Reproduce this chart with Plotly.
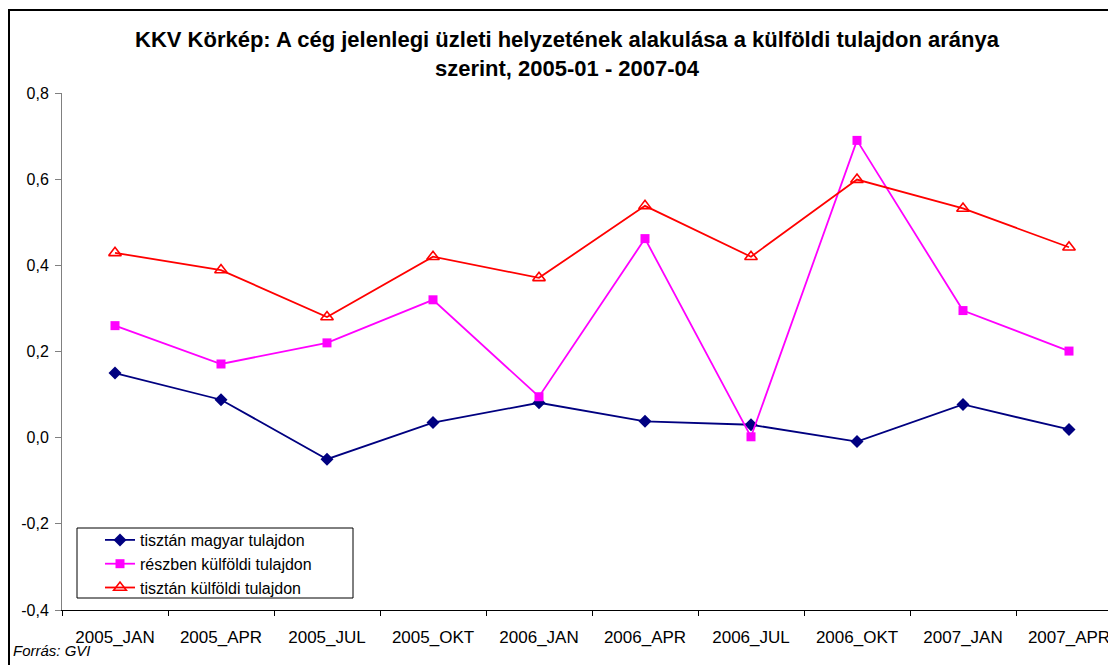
import plotly.graph_objects as go

categories = ["2005_JAN", "2005_APR", "2005_JUL", "2005_OKT", "2006_JAN",
              "2006_APR", "2006_JUL", "2006_OKT", "2007_JAN", "2007_APR"]

magyar = [0.150, 0.088, -0.050, 0.035, 0.081, 0.038, 0.030, -0.009, 0.077, 0.019]
reszben = [0.260, 0.171, 0.220, 0.320, 0.095, 0.462, 0.002, 0.690, 0.295, 0.201]
kulfoldi = [0.429, 0.389, 0.280, 0.420, 0.371, 0.538, 0.420, 0.599, 0.532, 0.442]

series_names = ["tisztán magyar tulajdon", "részben külföldi tulajdon", "tisztán külföldi tulajdon"]

y_tick_vals = [-0.4, -0.2, 0.0, 0.2, 0.4, 0.6, 0.8]
y_tick_text = ["-0,4", "-0,2", "0,0", "0,2", "0,4", "0,6", "0,8"]

title_text = ("KKV Körkép: A cég jelenlegi üzleti helyzetének alakulása a külföldi tulajdon aránya"
              "<br>szerint, 2005-01 - 2007-04")
source_text = "Forrás: GVI"

FONT = "Liberation Sans, Arial, sans-serif"

fig = go.Figure()
fig.add_trace(go.Scatter(
    x=categories, y=magyar, name=series_names[0], mode="lines+markers",
    line=dict(color="#000080", width=1.8),
    marker=dict(symbol="diamond", size=10, color="#000080"),
))
fig.add_trace(go.Scatter(
    x=categories, y=reszben, name=series_names[1], mode="lines+markers",
    line=dict(color="#FF00FF", width=1.8),
    marker=dict(symbol="square", size=9, color="#FF00FF"),
))
fig.add_trace(go.Scatter(
    x=categories, y=kulfoldi, name=series_names[2], mode="lines+markers",
    line=dict(color="#FF0000", width=1.8),
    marker=dict(symbol="triangle-up-open", size=11, color="#FF0000",
                line=dict(width=1.6, color="#FF0000")),
))

# page is offset by the browser's default 8px body margin
W, H = 1108, 657
L, R, T, B = 54, 0, 85, 55
pw = W - L - R
ph = H - T - B
bottom = T + ph


def px_x(x):
    return (x - L) / pw


def px_y(y):
    return (bottom - y) / ph


fig.update_layout(
    width=W, height=H,
    margin=dict(l=L, r=R, t=T, b=B),
    paper_bgcolor="white", plot_bgcolor="white",
    font=dict(family=FONT, size=16, color="black"),
    title=dict(text=title_text, x=559 / W, xref="container", xanchor="center",
               y=1 - 39 / H, yref="container", yanchor="top",
               font=dict(family=FONT, size=22, color="black", weight="bold")),
    showlegend=True,
    legend=dict(x=px_x(92), y=px_y(515), xanchor="left", yanchor="top",
                bgcolor="rgba(0,0,0,0)", borderwidth=0,
                font=dict(family=FONT, size=16, color="black"),
                tracegroupgap=0, itemwidth=30),
    xaxis=dict(type="category", range=[-0.5, 9.5 - 6 / 106],
               showgrid=False, zeroline=False, showline=True, linecolor="black", linewidth=1,
               ticks="outside", ticklen=5, tickcolor="black", tickson="boundaries",
               ticklabelstandoff=12,
               tickfont=dict(family=FONT, size=17, color="black")),
    yaxis=dict(range=[-0.4, 0.8], tickvals=y_tick_vals, ticktext=y_tick_text,
               showgrid=False, zeroline=False, showline=True, linecolor="#808080", linewidth=1,
               ticks="outside", ticklen=6, tickcolor="#808080", ticklabelstandoff=3,
               tickfont=dict(family=FONT, size=16, color="black")),
    shapes=[
        dict(type="rect", xref="paper", yref="paper",
             x0=px_x(1), x1=px_x(1120), y0=px_y(670), y1=px_y(2),
             line=dict(color="black", width=2), fillcolor="rgba(0,0,0,0)", layer="below"),
        dict(type="rect", xref="paper", yref="paper",
             x0=px_x(69), x1=px_x(345), y0=px_y(590), y1=px_y(520),
             line=dict(color="black", width=1), fillcolor="white", layer="below"),
    ],
    annotations=[dict(text="<i>" + source_text + "</i>", xref="paper", yref="paper",
                      x=px_x(3), y=px_y(642), xanchor="left", yanchor="middle",
                      showarrow=False, font=dict(family=FONT, size=15, color="black"))],
)

fig.write_html("out.html")
